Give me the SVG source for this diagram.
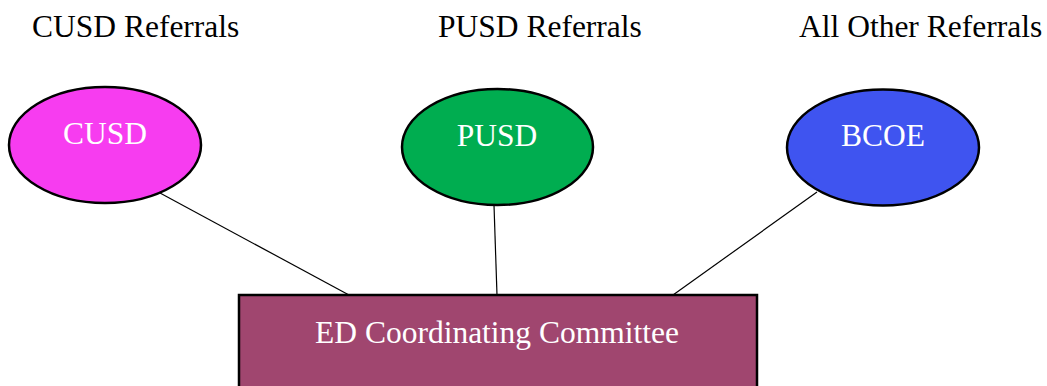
<svg xmlns="http://www.w3.org/2000/svg" width="1047" height="386" viewBox="0 0 1047 386">
  <style>
    .caption { font-family: "Liberation Serif", "Times New Roman", serif; font-size: 31.5px; fill: #000; }
    .label { font-family: "Liberation Serif", "Times New Roman", serif; font-size: 31.5px; fill: #fff; text-anchor: middle; }
    .node { stroke: #000; stroke-width: 2.5; }
    .edge { stroke: #000; stroke-width: 1.2; fill: none; }
  </style>
  <rect width="1047" height="386" fill="#fff"/>

  <!-- column captions -->
  <text class="caption" x="32" y="37">CUSD Referrals</text>
  <text class="caption" x="438" y="37">PUSD Referrals</text>
  <text class="caption" x="799" y="37">All Other Referrals</text>

  <!-- connectors -->
  <g id="connectors">
    <line class="edge" x1="160" y1="193" x2="349" y2="295"/>
    <line class="edge" x1="494" y1="205" x2="497" y2="295"/>
    <line class="edge" x1="817" y1="192" x2="673" y2="295"/>
  </g>

  <g id="cusd">
    <ellipse class="node" cx="105" cy="145" rx="96" ry="58" fill="#f73cf0"/>
    <text class="label" x="105" y="144">CUSD</text>
  </g>
  <g id="pusd">
    <ellipse class="node" cx="497.5" cy="147" rx="95.5" ry="58" fill="#00ad50"/>
    <text class="label" x="497" y="146">PUSD</text>
  </g>
  <g id="bcoe">
    <ellipse class="node" cx="883" cy="147.5" rx="96" ry="58" fill="#3f54f0"/>
    <text class="label" x="883" y="146">BCOE</text>
  </g>

  <g id="committee">
    <rect class="node" x="239" y="295" width="518" height="100" fill="#a0466f"/>
    <text class="label" x="497" y="343">ED Coordinating Committee</text>
  </g>
</svg>
